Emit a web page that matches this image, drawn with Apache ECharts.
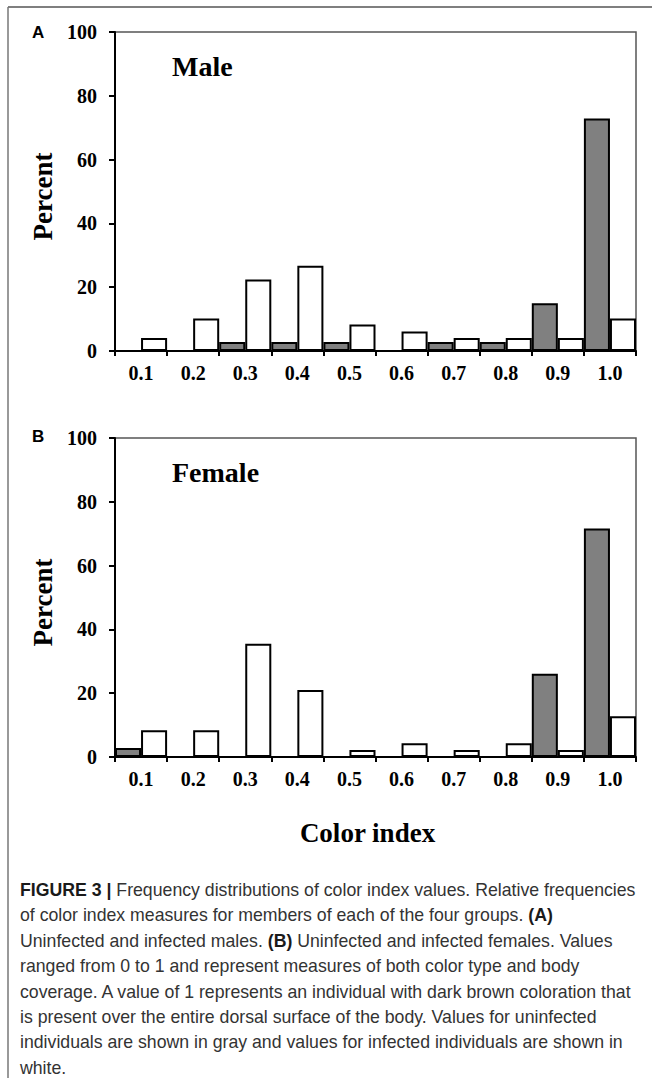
<!DOCTYPE html>
<html>
<head>
<meta charset="utf-8">
<script src="https://cdn.jsdelivr.net/npm/echarts@6/dist/echarts.min.js"></script>
<style>
  html, body { margin: 0; padding: 0; background: #fff; }
  #chart { width: 652px; height: 1078px; }
</style>
</head>
<body>
<div id="chart"></div>
<script>
// ---- data ----
const categories = ['0.1', '0.2', '0.3', '0.4', '0.5', '0.6', '0.7', '0.8', '0.9', '1.0'];
const percentTicks = [0, 20, 40, 60, 80, 100];
const maleUninfected   = [0, 0, 2.8, 2.8, 2.8, 0, 2.8, 2.8, 15, 72.9];
const maleInfected     = [4.1, 10.2, 22.4, 26.7, 8.3, 6.1, 4.1, 4.1, 4.1, 10.2];
const femaleUninfected = [2.8, 0, 0, 0, 0, 0, 0, 0, 26.1, 71.6];
const femaleInfected   = [8.4, 8.4, 35.5, 21.0, 2.2, 4.3, 2.2, 4.3, 2.2, 12.8];
const panelLabels = ['A', 'B'];
const panelTitles = ['Male', 'Female'];
const yAxisName = 'Percent';
const xAxisName = 'Color index';
const captionLines = [
  '{b|FIGURE 3 |} Frequency distributions of color index values. Relative frequencies',
  'of color index measures for members of each of the four groups. {b|(A)}',
  'Uninfected and infected males. {b|(B)} Uninfected and infected females. Values',
  'ranged from 0 to 1 and represent measures of both color type and body',
  'coverage. A value of 1 represents an individual with dark brown coloration that',
  'is present over the entire dorsal surface of the body. Values for uninfected',
  'individuals are shown in gray and values for infected individuals are shown in',
  'white.'
];

// ---- styling ----
const SERIF = "'Liberation Serif', 'Times New Roman', serif";
const SANS = "'Liberation Sans', Arial, sans-serif";
const yMin = percentTicks[0], yMax = percentTicks[percentTicks.length - 1];
const yStep = percentTicks[1] - percentTicks[0];

const chart = echarts.init(document.getElementById('chart'), null, { renderer: 'svg' });

const grids = [
  { left: 115, right: 16, top: 32, height: 319 },
  { left: 115, right: 16, top: 438, height: 319 }
].map(g => Object.assign(g, { show: true, borderColor: '#555', borderWidth: 1.5, backgroundColor: 'transparent' }));

function xAxisFor(i, withName) {
  const ax = {
    type: 'category', gridIndex: i, data: categories, boundaryGap: true,
    axisLine: { show: true, lineStyle: { color: '#000', width: 2 } },
    axisTick: { show: true, inside: false, length: 5, alignWithLabel: false, lineStyle: { color: '#000', width: 2 } },
    axisLabel: { margin: 12, color: '#000', fontFamily: SERIF, fontWeight: 'bold', fontSize: 20 },
    splitLine: { show: false }
  };
  if (withName) {
    Object.assign(ax, {
      name: xAxisName, nameLocation: 'middle', nameGap: 62,
      nameTextStyle: { color: '#000', fontFamily: SERIF, fontWeight: 'bold', fontSize: 27, padding: [0, 16, 0, 0] }
    });
  }
  return ax;
}
function yAxisFor(i) {
  return {
    type: 'value', gridIndex: i, min: yMin, max: yMax, interval: yStep,
    name: yAxisName, nameLocation: 'middle', nameGap: 44, nameRotate: 90,
    nameTextStyle: { color: '#000', fontFamily: SERIF, fontWeight: 'bold', fontSize: 27, padding: [0, 10, 0, 0] },
    axisLine: { show: true, lineStyle: { color: '#000', width: 2 } },
    axisTick: { show: true, inside: false, length: 6, lineStyle: { color: '#000', width: 2 } },
    axisLabel: { margin: 18, color: '#000', fontFamily: SERIF, fontWeight: 'bold', fontSize: 20 },
    splitLine: { show: false }
  };
}
function barSeries(name, data, i, fill) {
  return {
    type: 'bar', name: name, data: data, xAxisIndex: i, yAxisIndex: i,
    barGap: '0%', barCategoryGap: '0%',
    itemStyle: { color: fill, borderColor: '#000', borderWidth: 2 },
    emphasis: { disabled: true }
  };
}

const graphics = [
  { type: 'line', shape: { x1: 8, y1: 7, x2: 652, y2: 7 }, style: { stroke: '#555', lineWidth: 1.5 } },
  { type: 'line', shape: { x1: 8, y1: 7, x2: 8, y2: 1078 }, style: { stroke: '#777', lineWidth: 1.5 } },
  { type: 'text', x: 32, y: 32.5, style: { text: panelLabels[0], font: 'bold 17px ' + SANS, fill: '#000', verticalAlign: 'middle' } },
  { type: 'text', x: 32, y: 436.5, style: { text: panelLabels[1], font: 'bold 17px ' + SANS, fill: '#000', verticalAlign: 'middle' } },
  { type: 'text', x: 172, y: 66.5, style: { text: panelTitles[0], font: 'bold 28px ' + SERIF, fill: '#000', verticalAlign: 'middle' } },
  { type: 'text', x: 172, y: 472.5, style: { text: panelTitles[1], font: 'bold 28px ' + SERIF, fill: '#000', verticalAlign: 'middle' } }
];
captionLines.forEach((line, k) => {
  graphics.push({
    type: 'text', x: 20, y: 890 + k * 25.4,
    style: {
      text: line, fill: '#333', fontFamily: SANS, fontSize: 17.7, verticalAlign: 'middle',
      rich: { b: { fontWeight: 'bold', fontFamily: SANS, fontSize: 17.7, fill: '#1a1a1a' } }
    }
  });
});

chart.setOption({
  animation: false,
  backgroundColor: '#fff',
  grid: grids,
  xAxis: [xAxisFor(0, false), xAxisFor(1, true)],
  yAxis: [yAxisFor(0), yAxisFor(1)],
  series: [
    barSeries('Uninfected', maleUninfected, 0, '#808080'),
    barSeries('Infected', maleInfected, 0, '#ffffff'),
    barSeries('Uninfected', femaleUninfected, 1, '#808080'),
    barSeries('Infected', femaleInfected, 1, '#ffffff')
  ],
  graphic: graphics
});
</script>
</body>
</html>
